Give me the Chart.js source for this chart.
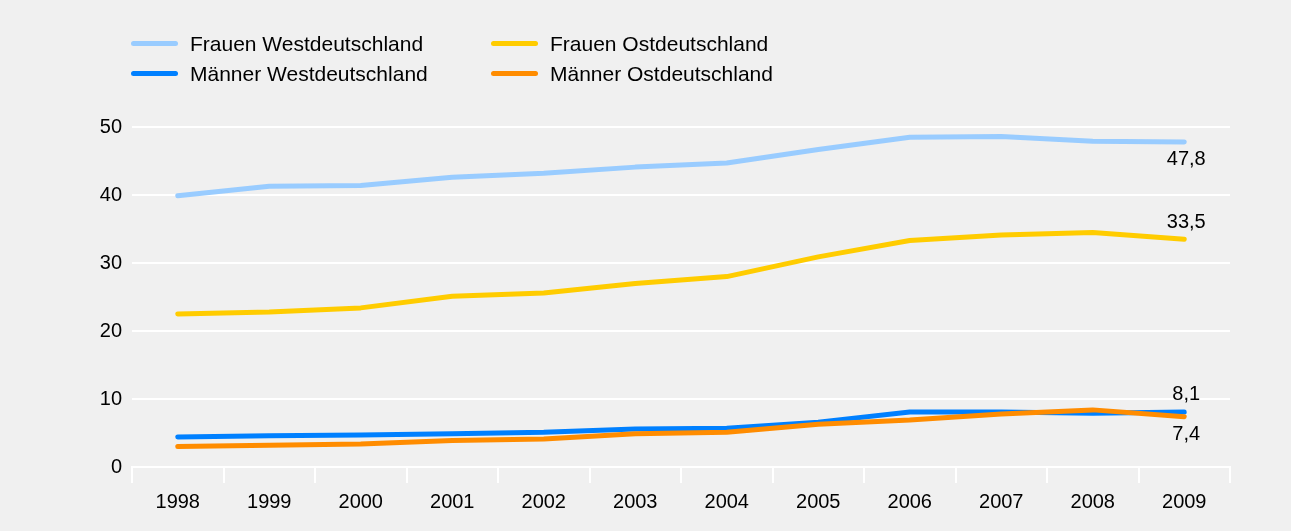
<!DOCTYPE html>
<html>
<head>
<meta charset="utf-8">
<script src="https://cdn.jsdelivr.net/npm/chart.js@4"></script>
<style>
  body { margin: 0; background: #f0f0f0; }
  #wrap { position: relative; width: 1291px; height: 531px; background: #f0f0f0; }
  #legend { position: absolute; left: 0; top: 0; font-family: "Liberation Sans", Arial, sans-serif; font-size: 21px; color: #000; }
  .item { position: absolute; white-space: nowrap; line-height: 21px; }
  .swatch { position: absolute; width: 47px; height: 5px; border-radius: 3px; top: 8px; }
  .item span.txt { position: absolute; left: 59px; top: 0; }
</style>
</head>
<body>
<div id="wrap">
  <canvas id="chart" width="1291" height="531"></canvas>
  <div id="legend"></div>
</div>
<script>
let years = ["1998", "1999", "2000", "2001", "2002", "2003", "2004", "2005", "2006", "2007", "2008", "2009"];
let series_names = ["Frauen Westdeutschland", "Frauen Ostdeutschland", "Männer Westdeutschland", "Männer Ostdeutschland"];
let frauen_west = [39.9, 41.3, 41.4, 42.6, 43.2, 44.1, 44.7, 46.7, 48.5, 48.6, 47.9, 47.8];
let frauen_ost = [22.5, 22.8, 23.4, 25.1, 25.6, 27.0, 28.0, 30.9, 33.3, 34.1, 34.5, 33.5];
let maenner_west = [4.4, 4.6, 4.7, 4.9, 5.1, 5.6, 5.7, 6.6, 8.1, 8.1, 7.9, 8.1];
let maenner_ost = [3.0, 3.2, 3.4, 3.9, 4.1, 4.9, 5.1, 6.3, 6.9, 7.8, 8.4, 7.4];
let y_ticks = [0, 10, 20, 30, 40, 50];

let colors = ["#99ccff", "#ffcc00", "#0080ff", "#ff8c00"];
let end_label_pos = ["below", "above", "above", "below"];
let all_values = [frauen_west, frauen_ost, maenner_west, maenner_ost];

// legend in two columns, like the original
let legend_spots = [[131, 33], [491, 33], [131, 63], [491, 63]];
let legend = document.getElementById("legend");
series_names.forEach(function (name, i) {
    let item = document.createElement("div");
    item.className = "item";
    item.style.left = legend_spots[i][0] + "px";
    item.style.top = legend_spots[i][1] + "px";
    item.innerHTML = '<div class="swatch" style="background:' + colors[i] + '"></div><span class="txt">' + name + '</span>';
    legend.appendChild(item);
});

let data_set = [];
series_names.forEach(function (name, i) {
    data_set.push({
        label: name,
        data: all_values[i],
        borderColor: colors[i],
        backgroundColor: colors[i],
        borderWidth: 5,
        borderCapStyle: "round",
        borderJoinStyle: "round",
        pointRadius: 0,
        tension: 0,
        fill: false,
        order: 4 - i
    });
});

// last value of each line, written next to its end
let end_labels = {
    id: "end_labels",
    afterDatasetsDraw(chart) {
        let ctx = chart.ctx;
        ctx.save();
        ctx.font = "20px 'Liberation Sans', Arial, sans-serif";
        ctx.fillStyle = "#000";
        ctx.textAlign = "center";
        ctx.textBaseline = "middle";
        chart.data.datasets.forEach(function (ds, i) {
            let meta = chart.getDatasetMeta(i);
            let last = meta.data[meta.data.length - 1];
            let v = ds.data[ds.data.length - 1];
            let dy = end_label_pos[i] === "below" ? 18 : -17;
            ctx.fillText(v.toFixed(1).replace(".", ","), last.x + 2, last.y + dy);
        });
        ctx.restore();
    }
};

let ctx = document.getElementById("chart").getContext("2d");
new Chart(ctx, {
    type: "line",
    data: { labels: years, datasets: data_set },
    plugins: [end_labels],
    options: {
        responsive: false,
        animation: false,
        layout: { padding: { top: 127, right: 61, left: 0, bottom: 0 } },
        plugins: { legend: { display: false }, tooltip: { enabled: false } },
        scales: {
            x: {
                offset: true,
                grid: {
                    offset: true,
                    drawOnChartArea: false,
                    color: "#ffffff",
                    lineWidth: 2,
                    tickLength: 16
                },
                border: { color: "#ffffff", width: 2 },
                ticks: {
                    color: "#000",
                    padding: 7,
                    font: { family: "'Liberation Sans', Arial, sans-serif", size: 20 },
                    maxRotation: 0
                },
                afterFit: function (scale) { scale.height = 64; }
            },
            y: {
                min: 0,
                max: 50,
                afterBuildTicks: function (scale) {
                    scale.ticks = y_ticks.map(function (v) { return { value: v }; });
                },
                grid: { color: "#ffffff", lineWidth: 2, drawTicks: false },
                border: { display: false },
                ticks: {
                    color: "#000",
                    padding: 10,
                    font: { family: "'Liberation Sans', Arial, sans-serif", size: 20 }
                },
                afterFit: function (scale) { scale.width = 132; }
            }
        }
    }
});
</script>
</body>
</html>
